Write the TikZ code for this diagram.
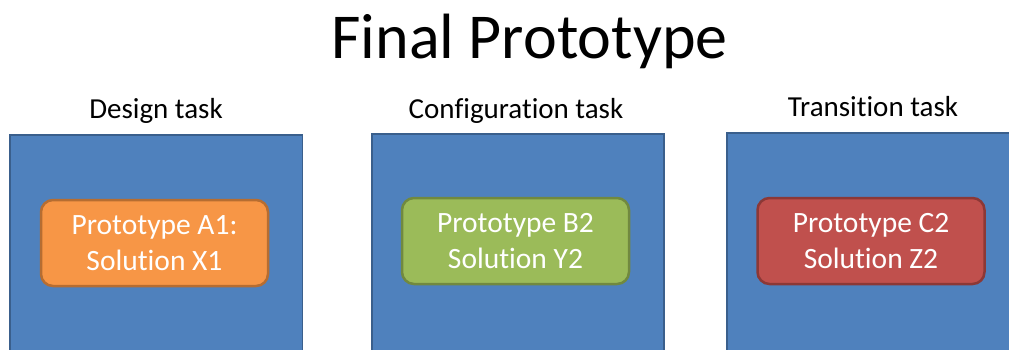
\documentclass[tikz,border=0pt]{standalone}
\usepackage{fontspec}
\setmainfont{Carlito}[Ligatures=NoCommon]
\definecolor{panelblue}{HTML}{4F81BD}
\definecolor{panelborder}{HTML}{3A5F8C}
\definecolor{orfill}{HTML}{F79646}
\definecolor{ordraw}{HTML}{B66D31}
\definecolor{grfill}{HTML}{9BBB59}
\definecolor{grdraw}{HTML}{71893F}
\definecolor{rdfill}{HTML}{C0504D}
\definecolor{rddraw}{HTML}{8C3836}
\begin{document}
\begin{tikzpicture}[x=1pt,y=-1pt,
  panel/.style={fill=panelblue,draw=panelborder,line width=1.5pt},
  proto/.style={rounded corners=12pt,line width=2.5pt,text=white,align=center,
    font=\fontsize{29.5}{36}\selectfont,minimum width=227pt,minimum height=86pt,inner sep=0pt},
  tasklabel/.style={anchor=base,font=\fontsize{29}{34}\selectfont,inner sep=0pt},
  ]
\useasboundingbox (0,0) rectangle (1009,349);
\clip (0,0) rectangle (1009,349);
\node[anchor=base,font=\fontsize{64}{70}\selectfont,inner sep=0pt] (title) at (529.5,58) {Final Prototype};
\node[tasklabel] (l1) at (156,118) {Design task};
\node[tasklabel] (l2) at (516,118) {Configuration task};
\node[tasklabel] (l3) at (873,116) {Transition task};
\draw[panel] (10,135) rectangle (302.5,365);
\draw[panel] (372,134) rectangle (664,365);
\draw[panel] (727,133) rectangle (1030,365);
\node[proto,fill=orfill,draw=ordraw] (a) at (154.5,243) {Prototype A1:\\Solution X1};
\node[proto,fill=grfill,draw=grdraw] (b) at (515.5,241) {Prototype B2\\Solution Y2};
\node[proto,fill=rdfill,draw=rddraw] (c) at (871,241) {Prototype C2\\Solution Z2};
\end{tikzpicture}
\end{document}
